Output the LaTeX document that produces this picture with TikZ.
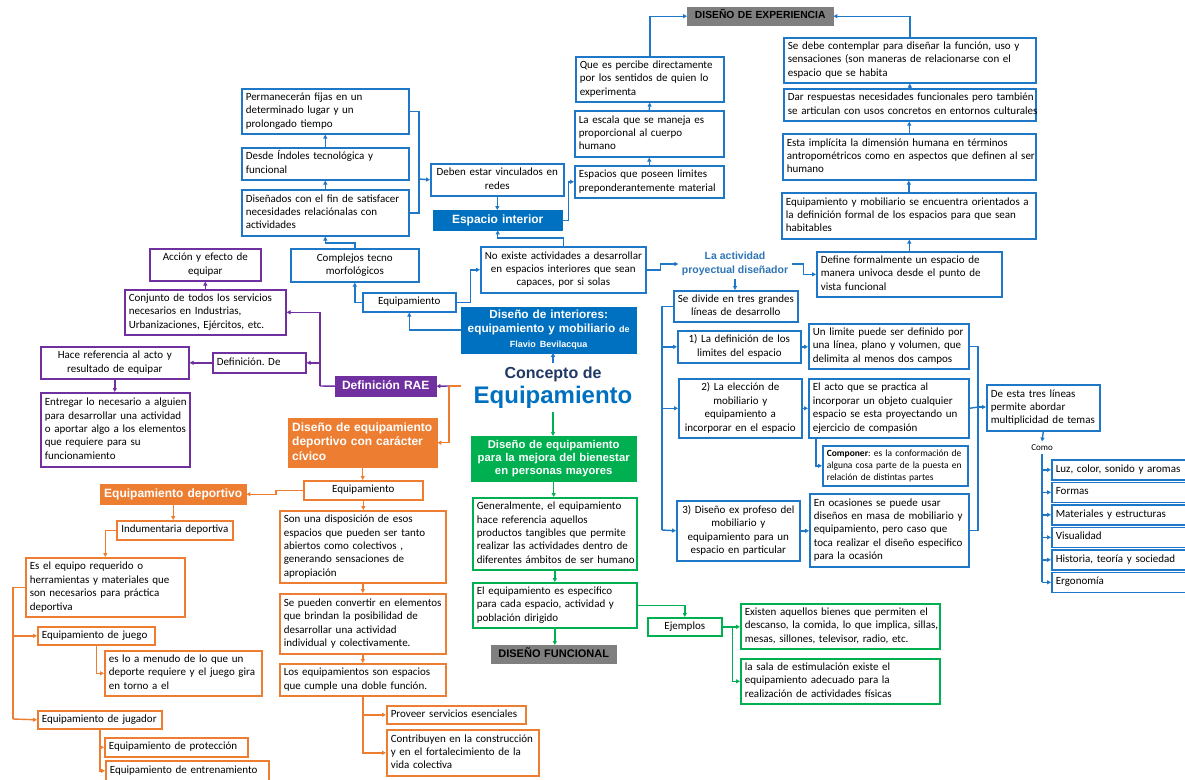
\documentclass[tikz,border=0pt]{standalone}
\usepackage{fontspec}
\setmainfont{Carlito}
\newfontfamily\hd{Liberation Sans}
\usetikzlibrary{arrows.meta}
\frenchspacing
\definecolor{cb}{HTML}{1F77C8}
\definecolor{cbf}{HTML}{0070C0}
\definecolor{co}{HTML}{ED7D31}
\definecolor{cg}{HTML}{00B050}
\definecolor{cp}{HTML}{7030A0}
\definecolor{cgr}{HTML}{7F7F7F}
\definecolor{cnavy}{HTML}{1F3864}
\definecolor{cla}{HTML}{2E75B6}
\newcommand\bxl[7]{\pgfmathsetmacro\tw{#5-8}\node[#2,anchor=north west,text width=\tw pt,minimum height=#6pt,align=left] (#1) at (#3,#4) {\begin{tabular}{@{}l@{}}#7\end{tabular}};}
\newcommand\bxc[7]{\pgfmathsetmacro\tw{#5-8}\node[#2,anchor=north west,text width=\tw pt,minimum height=#6pt,align=center] (#1) at (#3,#4) {\begin{tabular}{@{}c@{}}#7\end{tabular}};}
\begin{document}
\begin{tikzpicture}[x=1pt,y=-1pt,
 boxbase/.style={font=\fontsize{11}{13.4}\selectfont, inner xsep=4pt, inner ysep=1pt, line width=1.6pt, fill=white, text=black},
 bbox/.style={boxbase, draw=cb},
 obox/.style={boxbase, draw=co},
 gbox/.style={boxbase, draw=cg},
 pbox/.style={boxbase, draw=cp},
 headbase/.style={boxbase, line width=0.4pt, text=white, font=\hd\bfseries\fontsize{12}{14.5}\selectfont},
 bhead/.style={headbase, fill=cbf, draw=cbf},
 ohead/.style={headbase, fill=co, draw=co},
 ghead/.style={headbase, fill=cg, draw=cg, font=\hd\bfseries\fontsize{11.3}{13.2}\selectfont},
 phead/.style={headbase, fill=cp, draw=cp},
 grhead/.style={headbase, fill=cgr, draw=cgr, text=black},
 arr/.style={-{Triangle[length=4pt,width=4pt]}},
 bl/.style={draw=cb, line width=1.4pt},
 ol/.style={draw=co, line width=1.4pt},
 gl/.style={draw=cg, line width=1.4pt},
 pl/.style={draw=cp, line width=1.4pt},
]
\useasboundingbox (0,0) rectangle (1185,779);
\fill[white] (0,0) rectangle (1185,779);
\clip (0,0) rectangle (1185,779);

% ---------- blue, top left ----------
\bxl{B1}{bbox}{241}{88}{167}{45}{Permanecerán fijas en un\\determinado lugar y un\\prolongado tiempo}
\bxl{B2}{bbox}{241}{147}{167}{32}{Desde Índoles tecnológica y\\funcional}
\bxl{B3}{bbox}{241}{189}{167}{46}{Diseñados con el fin de satisfacer\\necesidades relaciónalas con\\actividades}
\bxc{B4}{bbox}{290}{248}{128}{33}{Complejos tecno\\morfológicos}
\bxc{B5}{bbox}{362}{292}{93}{19}{Equipamiento}
\bxc{Deben}{bbox}{430}{163}{133}{32}{Deben estar vinculados en\\redes}
\bxc{EspInt}{bhead}{433}{210}{129}{20}{Espacio interior}
\bxl{Espacios}{bbox}{574}{165}{149}{32}{Espacios que poseen limites\\preponderantemente material}
\bxl{Escala}{bbox}{574}{110}{149}{46}{La escala que se maneja es\\proporcional al cuerpo\\humano}
\bxl{Que}{bbox}{575}{56}{148}{45}{Que es percibe directamente\\por los sentidos de quien lo\\experimenta}
\bxc{DisExp}{grhead,font=\hd\bfseries\fontsize{10.3}{12}\selectfont}{687}{7}{146}{18}{DISEÑO DE EXPERIENCIA}

% ---------- blue, top right ----------
\bxl{SeDebe}{bbox}{783}{37}{252}{45}{Se debe contemplar para diseñar la función, uso y\\sensaciones (son maneras de relacionarse con el\\espacio que se habita}
\bxl{Dar}{bbox}{783}{88}{252}{32}{Dar respuestas necesidades funcionales pero también\\se articulan con usos concretos en entornos culturales}
\bxl{Esta}{bbox}{782}{133}{253}{46}{Esta implícita la dimensión humana en términos\\antropométricos como en aspectos que definen al ser\\humano}
\bxl{EqMob}{bbox}{781}{192}{254}{46}{Equipamiento y mobiliario se encuentra orientados a\\la definición formal de los espacios para que sean\\habitables}
\bxl{Define}{bbox}{816}{251}{185}{45}{Define formalmente un espacio de\\manera univoca desde el punto de\\vista funcional}

% ---------- center ----------
\bxc{NoEx}{bbox}{480}{246}{165}{46}{No existe actividades a desarrollar\\en espacios interiores que sean\\capaces, por si solas}
\bxc{DisInt}{bhead,font=\hd\bfseries\fontsize{11.8}{14.5}\selectfont}{461}{307}{175}{43}{Diseño de interiores:\\equipamiento y mobiliario {\fontsize{9}{10}\selectfont de}\\{\fontsize{9}{10}\selectfont Flavio Bevilacqua}}
\node[font=\hd\bfseries\fontsize{16}{18}\selectfont, text=cnavy] (Conc) at (553,374) {Concepto de};
\node[font=\hd\bfseries\fontsize{24}{28}\selectfont, text=cbf] (Equip) at (553,397) {Equipamiento};
\coordinate (cs) at (461,386);
\coordinate (cj) at (449,386);

\node[font=\hd\bfseries\fontsize{10.5}{13.5}\selectfont, text=cla, align=center] (LaAct) at (735,264) {La actividad\\proyectual diseñador};
\bxc{SeDiv}{bbox}{673}{290}{124}{31}{Se divide en tres grandes\\líneas de desarrollo}
\bxc{L1}{bbox}{677}{330}{123}{32}{1) La definición de los\\limites del espacio}
\bxc{L2}{bbox}{678}{378}{123}{59}{2) La elección de\\mobiliario y\\equipamiento a\\incorporar en el espacio}
\bxc{L3}{bbox}{676}{500}{123}{60}{3) Diseño ex profeso del\\mobiliario y\\equipamiento para un\\espacio en particular}
\bxl{R1}{bbox}{808}{323}{160}{45}{Un limite puede ser definido por\\una línea, plano y volumen, que\\delimita al menos dos campos}
\bxl{R2}{bbox}{808}{378}{160}{59}{El acto que se practica al\\incorporar un objeto cualquier\\espacio se esta proyectando un\\ejercicio de compasión}
\bxl{Comp}{bbox,font=\fontsize{9.5}{12}\selectfont}{822}{445}{145}{40}{\textbf{Componer}: es la conformación de\\alguna cosa parte de la puesta en\\relación de distintas partes}
\bxl{R3}{bbox}{809}{493}{159}{73}{En ocasiones se puede usar\\diseños en masa de mobiliario y\\equipamiento, pero caso que\\toca realizar el diseño especifico\\para la ocasión}
\bxl{DeEsta}{bbox}{986}{384}{113}{46}{De esta tres líneas\\permite abordar\\multiplicidad de temas}
\node[font=\fontsize{9}{11}\selectfont] (Como) at (1042,448) {Como};
\bxl{T1}{bbox}{1051}{459}{140}{20}{Luz, color, sonido y aromas}
\bxl{T2}{bbox}{1051}{481.5}{140}{20}{Formas}
\bxl{T3}{bbox}{1051}{504}{140}{20}{Materiales y estructuras}
\bxl{T4}{bbox}{1051}{526.5}{140}{20}{Visualidad}
\bxl{T5}{bbox}{1051}{549}{140}{20}{Historia, teoría y sociedad}
\bxl{T6}{bbox}{1051}{571.5}{140}{20}{Ergonomía}

% ---------- green ----------
\bxc{GrH}{ghead}{471}{436}{165}{45}{Diseño de equipamiento\\para la mejora del bienestar\\en personas mayores}
\bxl{Gen}{gbox}{472}{497}{164}{72}{Generalmente, el equipamiento\\hace referencia aquellos\\productos tangibles que permite\\realizar las actividades dentro de\\diferentes ámbitos de ser humano}
\bxl{ElEq}{gbox}{472}{582}{164}{45}{El equipamiento es especifico\\para cada espacio, actividad y\\población dirigido}
\bxc{DisFun}{grhead,font=\hd\bfseries\fontsize{11}{13}\selectfont}{491}{645}{125}{18}{DISEÑO FUNCIONAL}
\bxc{Ejem}{gbox}{647}{617}{74}{18}{Ejemplos}
\bxl{Exist}{gbox}{740}{603}{199}{45}{Existen aquellos bienes que permiten el\\descanso, la comida, lo que implica, sillas,\\mesas, sillones, televisor, radio, etc.}
\bxl{Sala}{gbox}{740}{658}{199}{45}{la sala de estimulación existe el\\equipamiento adecuado para la\\realización de actividades físicas}

% ---------- purple ----------
\bxc{Accion}{pbox}{149}{248}{111}{32}{Acción y efecto de\\equipar}
\bxl{Conj}{pbox}{124}{289}{161}{45}{Conjunto de todos los servicios\\necesarios en Industrias,\\Urbanizaciones, Ejércitos, etc.}
\bxl{DefDe}{pbox}{212}{352}{93}{20}{Definición. De}
\bxc{Hace}{pbox}{40}{346}{148}{32}{Hace referencia al acto y\\resultado de equipar}
\bxl{Entr}{pbox}{40}{392}{149}{74}{Entregar lo necesario a alguien\\para desarrollar una actividad\\o aportar algo a los elementos\\que requiere para su\\funcionamiento}
\bxc{RAE}{phead}{335}{376}{101}{20}{Definición RAE}
\coordinate (rv) at (320,386);

% ---------- orange ----------
\bxl{DisDep}{ohead}{288}{418}{149}{49}{Diseño de equipamiento\\deportivo con carácter\\cívico}
\bxc{Eq2}{obox}{303}{480}{119}{19}{Equipamiento}
\bxc{EqDep}{ohead}{100}{484}{146}{20}{Equipamiento deportivo}
\bxl{Son}{obox}{279}{510}{166}{72}{Son una disposición de esos\\espacios que pueden ser tanto\\abiertos como colectivos ,\\generando sensaciones de\\apropiación}
\bxl{SeP}{obox}{279}{593}{166}{60}{Se pueden convertir en elementos\\que brindan la posibilidad de\\desarrollar una actividad\\individual y colectivamente.}
\bxl{Los}{obox}{279}{663}{166}{32}{Los equipamientos son espacios\\que cumple una doble función.}
\bxl{Prov}{obox}{386}{705}{139}{18}{Proveer servicios esenciales}
\bxl{Contrib}{obox}{386}{729}{152}{46}{Contribuyen en la construcción\\y en el fortalecimiento de la\\vida colectiva}
\bxc{Indum}{obox}{116}{520}{116}{19}{Indumentaria deportiva}
\bxl{EsEq}{obox}{25}{557}{159}{59}{Es el equipo requerido o\\herramientas y materiales que\\son necesarios para práctica\\deportiva}
\bxl{Juego}{obox}{37}{626}{117}{18}{Equipamiento de juego}
\bxl{Menudo}{obox}{104}{650}{157}{45}{es lo a menudo de lo que un\\deporte requiere y el juego gira\\en torno a el}
\bxl{Jugador}{obox}{37}{710}{124}{18}{Equipamiento de jugador}
\bxl{Prot}{obox}{104}{737}{143}{19}{Equipamiento de protección}
\bxl{Entren}{obox}{105}{760}{163}{20}{Equipamiento de entrenamiento}
\coordinate (ov) at (13,719);

% ---------- blue connectors ----------
\draw[bl,arr] (B5.west) -| (B4.south);
\draw[bl,arr] (B4.north) -- ++(0,-5) -| (B3.south);
\draw[bl,arr] (B3.north) -- (B2.south);
\draw[bl,arr] (B2.north) -- (B1.south);
\coordinate (jB) at (419,179);
\draw[bl] (B1.east) -| (jB);
\draw[bl] (B3.east) -| (jB);
\draw[bl,arr] (jB) -- (Deben.west);
\draw[bl,arr] (Deben.south) -- (Deben.south |- EspInt.north);
\draw[bl,arr] (EspInt.east) -- ++(6,0) |- (Espacios.west);
\draw[bl,arr] (Espacios.north) -- (Escala.south);
\draw[bl,arr] (Escala.north) -- (Que.south);
\draw[bl,arr] (Que.north) |- (DisExp.west);
\draw[bl,arr] (SeDebe.north) |- (DisExp.east);
\draw[bl,arr] (Dar.north) -- (Dar.north |- SeDebe.south);
\draw[bl,arr] (Esta.north) -- (Esta.north |- Dar.south);
\draw[bl,arr] (EqMob.north) -- (EqMob.north |- Esta.south);
\draw[bl,arr] (Define.north) -- (Define.north |- EqMob.south);
\draw[bl,arr] (NoEx.north) -- ++(0,-8) -| (EspInt.south);
\draw[bl,arr] (B5.east) -- ++(14,0) |- (NoEx.west);
\draw[bl,arr] (DisInt.west) -| (B5.south);
\draw[bl,arr] (Conc.north) -- (Conc.north |- DisInt.south);
\draw[bl,arr] (NoEx.east) -- ++(14,0) |- (LaAct.west);
\draw[bl,arr] (LaAct.east) -- ++(12,0) |- (Define.west);
\draw[bl,arr] (LaAct.south) -- (LaAct.south |- SeDiv.north);
\coordinate (sv) at (662,530);
\draw[bl] (SeDiv.west) -| (sv);
\draw[bl,arr] (sv |- L1.west) -- (L1.west);
\draw[bl,arr] (sv |- L2.west) -- (L2.west);
\draw[bl,arr] (sv) -- (L3.west);
\draw[bl,arr] (L1.east) -- (L1.east -| R1.west);
\draw[bl,arr] (L2.east) -- (L2.east -| R2.west);
\draw[bl,arr] (L3.east) -- (L3.east -| R3.west);
\draw[bl,arr] ([xshift=8pt]R2.south west) |- (Comp.west);
\coordinate (rb) at (978,407);
\draw[bl] (R1.east) -| (rb);
\draw[bl] (R3.east) -| (rb);
\draw[bl] (R2.east) -- (rb);
\draw[bl,arr] (rb) -- (rb -| DeEsta.west);
\draw[bl,arr] (DeEsta.south) -- (Como.north);
\draw[bl] (Como.south) -- (Como.south |- T6.west);
\foreach \t in {T1,T2,T3,T4,T5,T6} \draw[bl,arr] (Como.south |- \t.west) -- (\t.west);

% ---------- green connectors ----------
\draw[gl,arr] (Equip.south) -- (Equip.south |- GrH.north);
\draw[gl,arr] (GrH.south) -- (GrH.south |- Gen.north);
\draw[gl,arr] (Gen.south) -- (Gen.south |- ElEq.north);
\draw[gl,arr] (ElEq.south) -- (ElEq.south |- DisFun.north);
\draw[gl,arr] (ElEq.east) -| (Ejem.north);
\draw[gl,arr] (Ejem.east) -- (Ejem.east -| Exist.west);
\draw[gl,arr] (Ejem.east) -- ++(10,0) |- (Sala.west);

% ---------- purple / orange connectors ----------
\draw[ol] (cs) -- (cj);
\draw[pl,arr] (cj) -- (RAE.east);
\draw[ol,arr] (cj) |- (DisDep.east);
\draw[pl] (RAE.west) -- (rv);
\draw[pl,arr] (rv) |- (Conj.east);
\draw[pl,arr] (rv |- DefDe.east) -- (DefDe.east);
\draw[pl,arr] (Conj.north) -- (Conj.north |- Accion.south);
\draw[pl,arr] (DefDe.west) -- (DefDe.west -| Hace.east);
\draw[pl,arr] (Hace.south) -- (Hace.south |- Entr.north);

\draw[ol,arr] (DisDep.south) -- (DisDep.south |- Eq2.north);
\draw[ol,arr] (Eq2.west) -- ++(-27,0) |- (EqDep.east);
\draw[ol,arr] (Eq2.south) -- (Eq2.south |- Son.north);
\draw[ol,arr] (Son.south) -- (Son.south |- SeP.north);
\draw[ol,arr] (SeP.south) -- (SeP.south |- Los.north);
\draw[ol,arr] (Los.south) |- (Contrib.west);
\draw[ol,arr] (Los.south |- Prov.west) -- (Prov.west);
\draw[ol,arr] (EqDep.south) -- (EqDep.south |- Indum.north);
\draw[ol,arr] (Indum.west) -| (EsEq.north);
\draw[ol] (EsEq.west) -| (ov);
\draw[ol,arr] (ov) -- (Jugador.west);
\draw[ol,arr] (ov |- Juego.west) -- (Juego.west);
\draw[ol,arr] (Juego.south) |- (Menudo.west);
\draw[ol,arr] (Jugador.south) |- (Entren.west);
\draw[ol,arr] (Jugador.south |- Prot.west) -- (Prot.west);
\end{tikzpicture}
\end{document}
